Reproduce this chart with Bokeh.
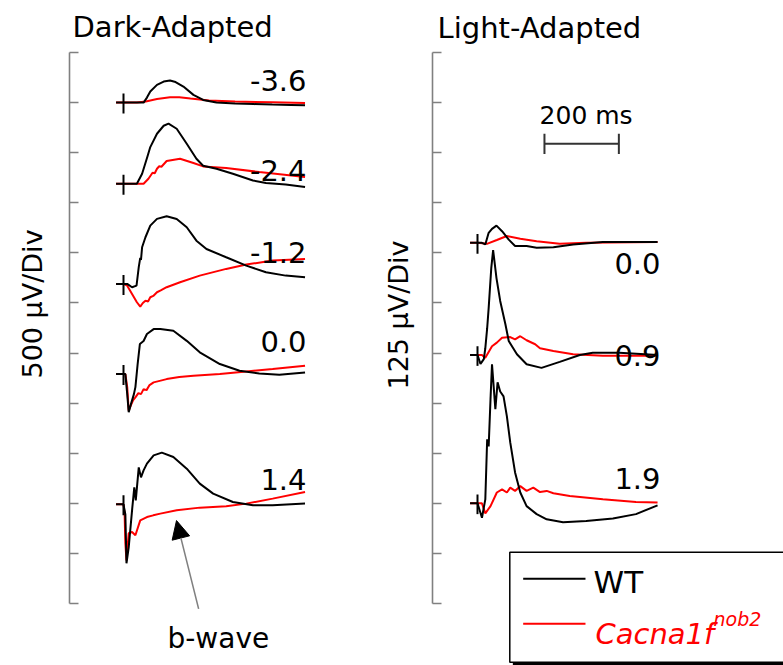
import math
from bokeh.plotting import figure
from bokeh.models import Range1d, LinearAxis, FixedTicker, Arrow, NormalHead
from bokeh.embed import file_html
from bokeh.resources import INLINE
from bokeh.core.properties import value

# ---------------- data: time (ms after flash) and response (µV, relative to pre-flash baseline)
# Dark-adapted, flash -3.6
da_m36_wt_t = [-20, 0, 30, 54, 63, 72, 90, 108, 125, 140, 161, 188, 214, 250, 300, 350, 400, 450, 488]
da_m36_wt_v = [0, 0, 0, 0, 50, 110, 177, 210, 220, 205, 160, 77, 27, 0, -10, -15, -20, -23, -26]
da_m36_mut_t = [-20, 0, 36, 60, 90, 125, 150, 180, 230, 300, 400, 488]
da_m36_mut_v = [0, 0, 0, 12, 35, 53, 53, 40, 20, 10, 3, -3]
# Dark-adapted, flash -2.4
da_m24_wt_t = [-20, 0, 36, 50, 65, 72, 90, 108, 121, 143, 170, 196, 214, 250, 294, 348, 383, 436, 488]
da_m24_wt_v = [0, 0, 0, 100, 280, 366, 499, 579, 600, 549, 399, 250, 180, 150, 100, 33, 7, -7, -33]
da_m24_mut_t = [-20, 0, 54, 67, 78, 84, 90, 96, 102, 116, 152, 188, 214, 276, 365, 488]
da_m24_mut_v = [0, 0, 0, 50, 110, 105, 150, 175, 170, 227, 250, 207, 173, 157, 117, 67]
# Dark-adapted, flash -1.2
da_m12_wt_t = [-20, 0, 10, 23, 35, 41, 45, 47, 50, 59, 72, 90, 116, 143, 170, 196, 223, 276, 330, 383, 436, 488]
da_m12_wt_v = [0, 0, 0, -33, -17, 167, 260, 240, 366, 466, 582, 649, 675, 649, 566, 432, 349, 266, 183, 117, 83, 67]
da_m12_mut_t = [-20, 0, 10, 23, 36, 45, 52, 59, 66, 72, 80, 90, 100, 116, 152, 205, 276, 330, 401, 488]
da_m12_mut_v = [0, 0, -17, -100, -183, -227, -190, -167, -175, -133, -120, -83, -65, -33, 17, 83, 150, 193, 233, 250]
# Dark-adapted, flash 0.0
da_p00_wt_t = [-20, 0, 5, 10, 14, 20, 28, 32, 38, 44, 54, 63, 81, 99, 134, 170, 205, 259, 312, 365, 419, 488]
da_p00_wt_v = [0, 0, 0, -200, -380, -300, -200, -130, 100, 300, 330, 400, 449, 449, 432, 332, 217, 100, 33, 7, -7, 17]
da_p00_mut_t = [-20, 0, 5, 10, 14, 20, 26, 32, 40, 47, 54, 62, 70, 81, 100, 116, 150, 188, 259, 330, 401, 488]
da_p00_mut_v = [0, 0, 0, -130, -366, -310, -260, -233, -190, -200, -150, -160, -110, -83, -65, -50, -30, -17, 0, 27, 50, 83]
# Dark-adapted, flash 1.4
da_p14_wt_t = [-20, 0, 5, 8, 14, 23, 29, 33, 41, 47, 54, 63, 81, 103, 134, 170, 205, 241, 294, 348, 401, 488]
da_p14_wt_v = [0, 0, -100, -589, -429, -60, 170, 40, 369, 269, 339, 406, 489, 516, 472, 356, 207, 107, 23, -10, -10, 7]
da_p14_mut_t = [-20, 0, 3, 5, 8, 14, 23, 32, 45, 63, 80, 99, 143, 205, 276, 330, 401, 488]
da_p14_mut_v = [0, 0, -100, -389, -559, -289, -276, -309, -160, -127, -110, -93, -60, -33, -20, 7, 57, 123]
# Light-adapted, flash 0.0
la_p00_wt_t = [-20, 0, 12, 21, 30, 39, 51, 66, 84, 101, 132, 159, 204, 257, 337, 417, 484]
la_p00_wt_v = [0, 0, 0, -4, 25, 35, 43, 29, 8, -8, -8, -12, -11, -4, 2, 2, 2]
la_p00_mut_t = [-20, 0, 27, 52, 79, 115, 159, 221, 292, 484]
la_p00_mut_v = [0, 0, -2, 7, 17, 10, 4, -2, 0, 2]
# Light-adapted, flash 0.9
la_p09_wt_t = [-20, 0, 8, 17, 21, 26, 30, 37, 42, 51, 61, 75, 84, 106, 132, 172, 221, 275, 310, 381, 484]
la_p09_wt_v = [0, 0, -22, -10, 17, 67, 117, 217, 262, 192, 135, 77, 35, 2, -23, -32, -17, 0, 6, 6, 0]
la_p09_mut_t = [-20, 0, 12, 21, 39, 52, 66, 88, 101, 115, 132, 155, 168, 204, 257, 337, 484]
la_p09_mut_v = [0, 0, 0, -7, 22, 31, 43, 45, 39, 47, 37, 27, 17, 10, 2, -2, -2]
# Light-adapted, flash 1.9
la_p19_wt_t = [-20, 0, 12, 21, 26, 30, 35, 39, 48, 54, 61, 70, 79, 88, 101, 115, 132, 159, 186, 230, 292, 364, 426, 484]
la_p19_wt_v = [0, 0, -36, 10, 160, 142, 260, 347, 235, 302, 279, 267, 217, 152, 77, 27, -7, -27, -40, -47, -44, -38, -27, -5]
la_p19_mut_t = [-20, 0, 12, 21, 35, 52, 66, 79, 88, 101, 115, 132, 150, 168, 186, 204, 248, 337, 426, 484]
la_p19_mut_v = [0, 0, 0, -25, -7, 27, 35, 27, 39, 31, 43, 31, 39, 28, 31, 25, 18, 10, 3, 2]

da_labels = ["-3.6", "-2.4", "-1.2", "0.0", "1.4"]
la_labels = ["0.0", "0.9", "1.9"]

# ---------------- layout (stacking offsets of traces, µV on each panel's axis)
da_offsets = [5000, 4190, 3190, 2290, 990]
la_offsets = [900, 620, 250]
da_label_y = [5221, 4322, 3504, 2615, 1238]
la_label_y = [848, 619, 312]

da_traces = [
    (da_m36_wt_t, da_m36_wt_v, da_m36_mut_t, da_m36_mut_v),
    (da_m24_wt_t, da_m24_wt_v, da_m24_mut_t, da_m24_mut_v),
    (da_m12_wt_t, da_m12_wt_v, da_m12_mut_t, da_m12_mut_v),
    (da_p00_wt_t, da_p00_wt_v, da_p00_mut_t, da_p00_mut_v),
    (da_p14_wt_t, da_p14_wt_v, da_p14_mut_t, da_p14_mut_v),
]
la_traces = [
    (la_p00_wt_t, la_p00_wt_v, la_p00_mut_t, la_p00_mut_v),
    (la_p09_wt_t, la_p09_wt_v, la_p09_mut_t, la_p09_mut_v),
    (la_p19_wt_t, la_p19_wt_v, la_p19_mut_t, la_p19_mut_v),
]

FONT = value("DejaVu Sans")
WT_COLOR = "#000000"
MUT_COLOR = "#ff0000"
AXIS_GRAY = "#808080"

W, H = 783, 665
PX_PER_MS = 0.372
DA_UV_PER_PX = 500 / 50.09
LA_UV_PER_PX = 125 / 50.09

p = figure(width=W, height=H, output_backend="svg", toolbar_location=None,
           x_axis_type=None, y_axis_type=None, min_border=0,
           x_range=Range1d(-123 / PX_PER_MS, (W - 123) / PX_PER_MS),
           y_range=Range1d(-(H - 603) * DA_UV_PER_PX, 603 * DA_UV_PER_PX))
p.extra_x_ranges = {"lx": Range1d(-477 / PX_PER_MS, (W - 477) / PX_PER_MS)}
p.extra_y_ranges = {"ly": Range1d(-(H - 603) * LA_UV_PER_PX, 603 * LA_UV_PER_PX)}
p.outline_line_color = None
p.background_fill_color = "white"
p.border_fill_color = "white"


def add_axis(xr, yr, loc, top):
    kw = {}
    if xr:
        kw["x_range_name"] = xr
    if yr:
        kw["y_range_name"] = yr
    step = top / 11
    ax = LinearAxis(fixed_location=loc, bounds=(0, top),
                    ticker=FixedTicker(ticks=[i * step for i in range(12)]),
                    major_tick_in=9, major_tick_out=0,
                    minor_tick_in=0, minor_tick_out=0,
                    major_label_text_font_size="1px", major_label_standoff=0,
                    major_label_text_color=None, major_label_text_alpha=0,
                    axis_line_color=AXIS_GRAY, axis_line_width=1.6,
                    major_tick_line_color=AXIS_GRAY, major_tick_line_width=1.6,
                    **kw)
    p.add_layout(ax, "left")


add_axis(None, None, -146, 5500)
add_axis("lx", "ly", -121.8, 1375)

# traces
for (wt_t, wt_v, mu_t, mu_v), off in zip(da_traces, da_offsets):
    p.line(mu_t, [off + v for v in mu_v], line_color=MUT_COLOR, line_width=2)
    p.line(wt_t, [off + v for v in wt_v], line_color=WT_COLOR, line_width=2)
    p.segment(x0=[0], y0=[off - 110], x1=[0], y1=[off + 90], line_color=WT_COLOR, line_width=2)

for (wt_t, wt_v, mu_t, mu_v), off in zip(la_traces, la_offsets):
    p.line(mu_t, [off + v for v in mu_v], line_color=MUT_COLOR, line_width=2,
           x_range_name="lx", y_range_name="ly")
    p.line(wt_t, [off + v for v in wt_v], line_color=WT_COLOR, line_width=2,
           x_range_name="lx", y_range_name="ly")
    p.segment(x0=[0], y0=[off - 27], x1=[0], y1=[off + 22], line_color=WT_COLOR, line_width=2,
              x_range_name="lx", y_range_name="ly")

# intensity labels
p.text(x=[492] * len(da_labels), y=da_label_y, text=da_labels, text_font=FONT,
       text_font_size="29px", text_align="right", text_baseline="alphabetic", text_color="black")
p.text(x=[492] * len(la_labels), y=la_label_y, text=la_labels, text_font=FONT,
       text_font_size="29px", text_align="right", text_baseline="alphabetic", text_color="black",
       x_range_name="lx", y_range_name="ly")

# panel titles
p.text(x=[-137], y=[5750], text=["Dark-Adapted"], text_font=FONT, text_font_size="29px",
       text_align="left", text_baseline="alphabetic", text_color="black")
p.text(x=[-107.5], y=[1437], text=["Light-Adapted"], text_font=FONT, text_font_size="29px",
       text_align="left", text_baseline="alphabetic", text_color="black",
       x_range_name="lx", y_range_name="ly")

# vertical scale labels
p.text(x=[-244.6], y=[2990], text=["500 \u03bcV/Div"], text_font=FONT, text_font_size="27px",
       text_align="center", text_baseline="alphabetic", angle=math.pi / 2, text_color="black")
p.text(x=[-212.4], y=[720], text=["125 \u03bcV/Div"], text_font=FONT, text_font_size="27px",
       text_align="center", text_baseline="alphabetic", angle=math.pi / 2, text_color="black",
       x_range_name="lx", y_range_name="ly")

# time scale bar (200 ms)
p.segment(x0=[180], y0=[1147], x1=[380], y1=[1147], line_color="#333333", line_width=2,
          x_range_name="lx", y_range_name="ly")
p.segment(x0=[180, 380], y0=[1122, 1122], x1=[180, 380], y1=[1172, 1172], line_color="#333333",
          line_width=2, x_range_name="lx", y_range_name="ly")
p.text(x=[292], y=[1218], text=["200 ms"], text_font=FONT, text_font_size="25px",
       text_align="center", text_baseline="alphabetic", text_color="black",
       x_range_name="lx", y_range_name="ly")

# b-wave annotation
p.add_layout(Arrow(end=NormalHead(size=18, fill_color="black", line_color="black"),
                   x_start=202, y_start=-53, x_end=142.5, y_end=828,
                   line_color="#808080", line_width=1.5))
p.text(x=[255], y=[-349], text=["b-wave"], text_font=FONT, text_font_size="28px",
       text_align="center", text_baseline="alphabetic", text_color="black")

# legend box
p.quad(left=[95], right=[900], top=[120], bottom=[-154], fill_color="black", line_color=None,
       x_range_name="lx", y_range_name="ly")
p.quad(left=[86.8], right=[900], top=[128], bottom=[-146.5], fill_color="white",
       line_color="black", line_width=1.5, x_range_name="lx", y_range_name="ly")
p.segment(x0=[122.8], y0=[61.6], x1=[290.3], y1=[61.6], line_color=WT_COLOR, line_width=2,
          x_range_name="lx", y_range_name="ly")
p.segment(x0=[122.8], y0=[-50.7], x1=[290.3], y1=[-50.7], line_color=MUT_COLOR, line_width=2,
          x_range_name="lx", y_range_name="ly")
p.text(x=[311.8], y=[53.2], text=["WT"], text_font=FONT, text_font_size="31px",
       text_align="left", text_baseline="alphabetic", text_color="black",
       x_range_name="lx", y_range_name="ly")
p.text(x=[317], y=[-75.6], text=["Cacna1f"], text_font=FONT, text_font_size="29px",
       text_font_style="italic", text_align="left", text_baseline="alphabetic",
       text_color=MUT_COLOR, x_range_name="lx", y_range_name="ly")
p.text(x=[634.4], y=[-38.2], text=["nob2"], text_font=FONT, text_font_size="19px",
       text_font_style="italic", text_align="left", text_baseline="alphabetic",
       text_color=MUT_COLOR, x_range_name="lx", y_range_name="ly")

open("out.html", "w").write(file_html(p, INLINE))
